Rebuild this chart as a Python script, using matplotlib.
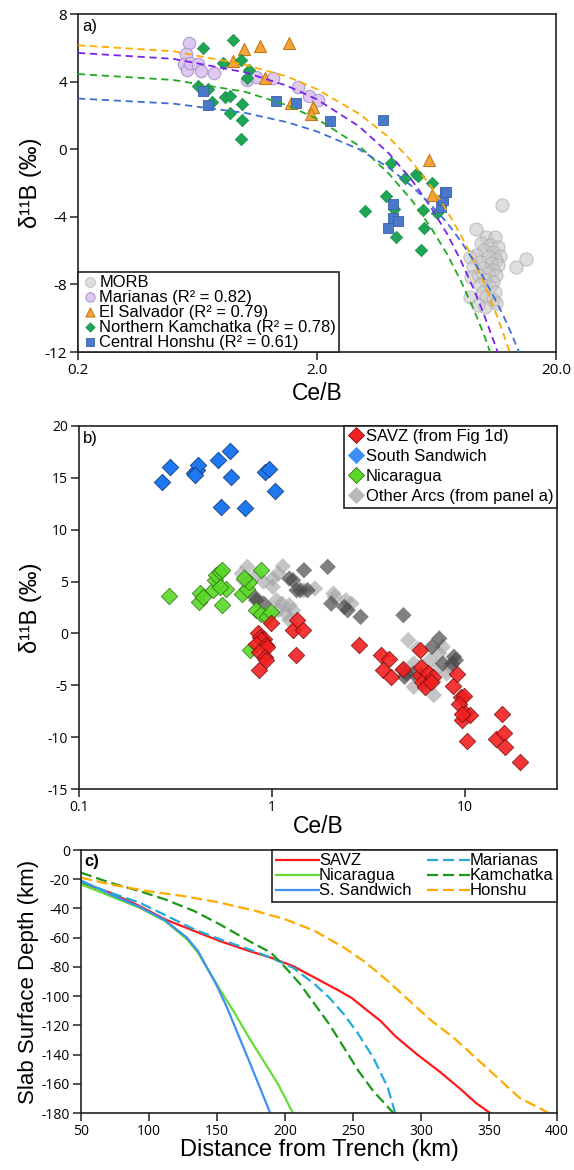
import numpy as np
import matplotlib
matplotlib.use("Agg")
import matplotlib.pyplot as plt
from matplotlib.ticker import NullLocator
from matplotlib.lines import Line2D

plt.rcParams['font.family'] = ['Liberation Sans', 'DejaVu Sans']

# ---------------- panel a data ----------------
morb_x = [10.22, 11.07, 9.74, 10.55, 11.43, 9.96, 10.89, 11.61, 9.28, 10.38, 11.25, 8.71, 9.59,
          10.72, 11.43, 8.99, 9.90, 10.89, 10.38, 9.43, 11.25, 8.85, 10.06, 10.89, 9.59, 10.55,
          11.07, 9.90, 10.22, 10.89, 8.77, 10.06, 9.43, 11.25, 15.0, 13.6, 11.9, 9.22]
morb_y = [-5.21, -5.21, -5.53, -5.67, -5.77, -5.96, -6.06, -6.32, -6.26, -6.36, -6.56, -6.40, -6.65,
          -6.75, -6.85, -6.95, -7.05, -7.15, -7.35, -7.44, -7.44, -7.58, -7.74, -7.84, -8.04, -8.13,
          -8.43, -8.43, -8.73, -8.92, -8.73, -9.32, -9.22, -9.12, -6.51, -6.99, -3.30, -4.74]

mar_x = [0.58, 0.566, 0.556, 0.57, 0.59, 0.634, 0.652, 0.743, 1.02, 1.11, 1.31, 1.66, 1.86, 2.01]
mar_y = [6.27, 5.62, 5.02, 4.67, 5.12, 5.02, 4.63, 4.53, 4.07, 4.29, 4.19, 3.69, 3.14, 2.90]

els_x = [0.89, 0.986, 1.15, 1.52, 1.21, 1.56, 1.93, 1.89, 5.86, 6.07]
els_y = [5.22, 5.92, 6.12, 6.31, 4.19, 2.74, 2.50, 2.11, -0.63, -2.71]

kam_x = [0.668, 0.893, 0.811, 0.958, 1.04, 1.02, 0.636, 0.698, 0.725, 0.826, 0.865, 0.968, 0.865,
         0.975, 0.958, 4.06, 4.69, 5.2, 5.27, 6.03, 3.9, 3.18, 4.18, 5.56, 6.33, 5.6, 4.27, 5.42]
kam_y = [5.98, 6.45, 5.12, 5.26, 4.67, 4.19, 3.73, 3.57, 2.78, 3.10, 3.14, 2.68, 2.15,
         1.75, 0.60, -0.83, -1.72, -1.46, -1.56, -2.02, -2.77, -3.65, -3.51, -3.57, -3.80, -4.66, -5.20, -5.95]

hon_x = [0.664, 0.70, 1.35, 1.63, 2.26, 3.78, 4.15, 4.17, 4.38, 3.96, 6.63, 6.74, 6.85, 6.93]
hon_y = [3.44, 2.64, 2.84, 2.74, 1.65, 1.71, -3.26, -4.09, -4.25, -4.68, -3.40, -3.00, -2.51, -2.52]

# fitted curves
fit_els_x = [0.2, 0.5, 1.0, 1.5, 2.0, 3.0, 4.0, 5.0, 6.0, 7.0, 8.0, 9.0, 10.0, 11.0, 12.0, 12.8]
fit_els_y = [6.15, 5.8, 5.0, 4.3, 3.55, 2.1, 0.7, -0.75, -2.2, -3.65, -5.1, -6.5, -7.95, -9.4, -10.85, -12.0]
fit_mar_x = [0.2, 0.5, 1.0, 1.5, 2.0, 3.0, 4.0, 5.0, 6.0, 7.0, 8.0, 9.0, 10.0, 11.4]
fit_mar_y = [5.7, 5.35, 4.55, 3.75, 2.95, 1.35, -0.25, -1.85, -3.45, -5.0, -6.6, -8.2, -9.8, -12.0]
fit_kam_x = [0.2, 0.5, 1.0, 1.5, 2.0, 3.0, 4.0, 5.0, 6.0, 7.0, 8.0, 9.0, 10.0, 10.6]
fit_kam_y = [4.45, 4.1, 3.4, 2.6, 1.8, 0.2, -1.45, -3.05, -4.65, -6.2, -7.8, -9.4, -11.0, -12.0]
fit_hon_x = [0.2, 0.5, 1.0, 1.5, 2.0, 3.0, 4.0, 5.0, 6.0, 7.0, 8.0, 9.0, 10.0, 11.0, 12.0, 13.0, 14.0]
fit_hon_y = [3.0, 2.7, 2.15, 1.6, 1.05, 0.0, -1.1, -2.2, -3.3, -4.35, -5.45, -6.55, -7.65, -8.75, -9.8, -10.9, -12.0]

# ---------------- panel b data ----------------
ssw_x = [0.268, 0.295, 0.396, 0.408, 0.413, 0.40, 0.523, 0.607, 0.546, 0.612, 0.729, 0.915, 0.96, 1.04]
ssw_y = [14.6, 16.05, 15.5, 15.76, 16.2, 15.3, 16.7, 17.6, 12.2, 15.1, 12.1, 15.57, 15.9, 13.74]

nic_x = [0.291, 0.422, 0.419, 0.437, 0.496, 0.509, 0.514, 0.537, 0.551, 0.581, 0.551, 0.698,
         0.745, 0.761, 0.879, 0.83, 0.875, 0.947, 0.989, 0.768, 0.537, 0.72]
nic_y = [3.59, 3.91, 3.04, 3.53, 4.17, 5.13, 5.61, 5.93, 6.10, 4.33, 2.72, 3.85,
         4.33, 4.97, 6.10, 2.24, 1.92, 1.60, 2.08, -1.55, 4.50, 5.30]

savz_x = [0.849, 0.868, 0.887, 0.906, 0.875, 0.83, 0.927, 0.947, 0.861, 0.915, 0.927, 0.861, 0.989,
          1.285, 1.355, 1.453, 1.331, 2.82, 3.66, 4.03, 3.74, 4.14, 4.76, 5.87, 5.97, 6.24, 5.93,
          6.46, 6.81, 5.87, 6.69, 8.69, 9.08, 9.58, 9.91, 9.37, 10.0, 9.66, 10.59, 10.2, 9.7,
          15.5, 14.5, 16.0, 16.2, 19.2]
savz_y = [0.0, -0.33, -0.65, -0.49, -0.65, -0.97, -1.13, -1.29, -1.77, -2.25, -2.58, -3.54, 1.02,
          0.31, 1.28, 0.31, -2.09, -1.13, -2.09, -2.51, -3.54, -4.18, -3.47, -4.02, -4.66, -5.14, -3.22,
          -3.86, -4.18, -1.55, -4.66, -5.08, -3.92, -6.11, -6.04, -6.81, -7.71, -8.36, -7.87, -10.35, -7.78,
          -7.78, -10.22, -9.64, -10.93, -12.37]

oth_light_x = [0.745, 0.698, 0.713, 0.83, 0.906, 1.01, 1.08, 1.137, 1.01, 1.056, 1.128, 1.231, 1.178,
               1.285, 1.08, 1.231, 1.465, 1.67, 2.08, 2.12, 2.42, 2.58, 5.08, 5.67, 5.43, 6.6, 7.05,
               6.9, 7.69, 8.04, 8.4, 5.43, 6.32, 7.36, 6.9]
oth_light_y = [6.42, 5.77, 5.13, 5.61, 4.97, 5.29, 5.77, 6.48, 4.49, 3.2, 2.88, 2.72, 1.92,
               2.24, 2.24, 1.28, 4.17, 4.33, 3.85, 3.53, 3.2, 2.88, -0.65, -1.45, -2.9, -2.58, -3.54,
               -4.66, -1.29, -3.86, -3.22, -5.14, -4.82, -1.93, -5.95]
oth_dark_x = [0.813, 0.83, 0.906, 1.231, 1.285, 1.465, 1.342, 1.402, 1.53, 1.945, 2.03, 2.37, 2.47,
              2.88, 4.8, 4.76, 4.87, 4.97, 5.43, 7.36, 8.77, 8.97, 8.59, 7.69, 6.75]
oth_dark_y = [3.53, 3.2, 2.88, 5.29, 5.13, 6.1, 4.17, 4.17, 4.17, 6.42, 2.88, 2.56, 2.24,
              1.6, 1.76, -3.54, -4.18, -3.86, -3.86, -0.49, -2.25, -2.58, -2.9, -2.9, -1.29]

# ---------------- panel c data ----------------
savz_d = [50, 71.5, 93.0, 111.8, 133.3, 152.1, 173.6, 189.7, 205.8, 221.9, 238.0, 248.8, 259.5,
          270.3, 281.0, 297.1, 313.2, 329.3, 340.1, 350.8]
savz_z = [-22.4, -29.2, -38.3, -47.5, -55.4, -62.3, -69.1, -73.7, -79.4, -87.4, -95.4, -101.1, -109.1,
          -117.0, -127.3, -139.9, -151.3, -163.8, -172.9, -180.0]
nic_d = [50, 71.5, 93.0, 111.8, 127.9, 136.0, 144.0, 152.1, 162.8, 173.6, 184.3, 195.0, 205.8]
nic_z = [-23.5, -31.5, -39.5, -48.6, -61.1, -70.3, -82.8, -95.4, -111.3, -128.5, -144.4, -160.4, -180.0]
ssw_d = [50, 71.5, 93.0, 111.8, 127.9, 136.0, 141.3, 149.4, 157.4, 165.5, 173.6, 181.6, 189.1]
ssw_z = [-20.8, -30.3, -39.0, -48.1, -60.0, -69.1, -78.2, -91.9, -107.9, -126.2, -144.4, -162.7, -180.0]
mar_d = [50, 71.5, 93.0, 111.8, 133.3, 152.1, 173.6, 189.7, 205.8, 221.9, 232.6, 243.4, 254.1,
         264.9, 275.6, 281.0]
mar_z = [-21.7, -29.2, -36.0, -44.5, -54.3, -61.1, -68.0, -73.7, -80.5, -91.9, -101.1, -112.5, -126.2,
         -142.1, -162.7, -180.0]
kam_d = [50, 71.5, 93.0, 111.8, 133.3, 152.1, 173.6, 189.7, 200.4, 211.2, 221.9, 232.6, 243.4,
         254.1, 264.9, 279.7]
kam_z = [-15.5, -22.4, -28.1, -33.8, -41.8, -50.9, -62.3, -70.3, -80.5, -91.9, -105.6, -119.3, -135.3,
         -151.3, -165.0, -180.0]
hon_d = [50, 71.5, 98.3, 125.2, 152.1, 178.9, 200.4, 221.9, 243.4, 259.5, 275.6, 291.7, 307.9,
         324.0, 340.1, 356.2, 372.3, 393.8]
hon_z = [-18.9, -23.5, -28.1, -31.5, -36.0, -41.8, -47.5, -55.4, -66.8, -77.1, -89.7, -103.4, -117.0,
         -128.5, -142.1, -155.8, -169.5, -180.0]

tickfont = ['Open Sans', 'DejaVu Sans']


def style_axes(ax, tsize):
    for s in ax.spines.values():
        s.set_color('#222222')
        s.set_linewidth(1.2)
    ax.tick_params(direction='out', length=6, width=1.1, color='#222222',
                   labelsize=tsize, top=False, right=False, pad=2)
    for lab in ax.get_xticklabels() + ax.get_yticklabels():
        lab.set_fontfamily(tickfont)


fig = plt.figure(figsize=(5.74, 11.7), dpi=100)

# ================= panel a =================
ax1 = fig.add_axes([0.1359, 0.6991, 0.8328, 0.2889])
ax1.set_xscale('log')
ax1.scatter(morb_x, morb_y, s=90, marker='o', c='#C8C8C8', edgecolors='#A8A8A8',
            linewidths=0.8, alpha=0.6, zorder=2, label='MORB')
ax1.scatter(mar_x, mar_y, s=80, marker='o', c='#DCC4F2', edgecolors='#A894C4',
            linewidths=0.8, alpha=0.9, zorder=3, label='Marianas (R² = 0.82)')
ax1.scatter(els_x, els_y, s=75, marker='^', c='#F5A536', edgecolors='#C57A1E',
            linewidths=0.8, zorder=3, label='El Salvador (R² = 0.79)')
ax1.scatter(kam_x, kam_y, s=40, marker='D', c='#1EA656', edgecolors='#178A45',
            linewidths=0.5, zorder=3, label='Northern Kamchatka (R² = 0.78)')
ax1.scatter(hon_x, hon_y, s=55, marker='s', c='#4B79C9', edgecolors='#3A62A8',
            linewidths=0.6, zorder=3, label='Central Honshu (R² = 0.61)')

dash = (0, (4, 2.6))
ax1.plot(fit_els_x, fit_els_y, color='#FFAA00', lw=1.3, ls=dash, zorder=4)
ax1.plot(fit_mar_x, fit_mar_y, color='#7A22F0', lw=1.3, ls=dash, zorder=4)
ax1.plot(fit_kam_x, fit_kam_y, color='#22AA22', lw=1.3, ls=dash, zorder=4)
ax1.plot(fit_hon_x, fit_hon_y, color='#3F70D0', lw=1.3, ls=dash, zorder=4)

ax1.set_xlim(0.2, 20)
ax1.set_ylim(-12, 8)
ax1.set_xticks([0.2, 2.0, 20.0])
ax1.set_xticklabels(['0.2', '2.0', '20.0'])
ax1.xaxis.set_minor_locator(NullLocator())
ax1.set_yticks([8, 4, 0, -4, -8, -12])
ax1.set_yticklabels(['8', '4', '0', '-4', '-8', '-12'])
style_axes(ax1, 11)
ax1.set_xlabel('Ce/B', fontsize=16.5, labelpad=3)
ax1.set_ylabel('δ¹¹B (‰)', fontsize=17, labelpad=2)
ax1.text(0.008, 0.985, 'a)', transform=ax1.transAxes, ha='left', va='top', fontsize=12)
leg1 = ax1.legend(loc='lower left', bbox_to_anchor=(0, 0), fontsize=11.9, frameon=True,
                  fancybox=False, edgecolor='#222222', framealpha=1, borderpad=0.15,
                  labelspacing=0.0, handletextpad=0.05, handlelength=1.1, borderaxespad=0,
                  markerscale=0.75)
leg1.get_frame().set_linewidth(1.2)

# ================= panel b =================
ax2 = fig.add_axes([0.1376, 0.3256, 0.8328, 0.3103])
ax2.set_xscale('log')
ax2.scatter(oth_light_x, oth_light_y, s=70, marker='D', c='#A6A6A6', edgecolors='none',
            alpha=0.65, zorder=2)
ax2.scatter(oth_dark_x, oth_dark_y, s=70, marker='D', c='#4A4A4A', edgecolors='none',
            alpha=0.7, zorder=2)
ax2.scatter(ssw_x, ssw_y, s=70, marker='D', c='#1F78F0', edgecolors='#143E80',
            linewidths=0.6, zorder=3)
ax2.scatter(nic_x, nic_y, s=70, marker='D', c='#5AD828', edgecolors='#2E7414',
            linewidths=0.6, alpha=0.9, zorder=3)
ax2.scatter(savz_x, savz_y, s=70, marker='D', c='#F22020', edgecolors='#7A1010',
            linewidths=0.6, alpha=0.9, zorder=4)
ax2.set_xlim(0.1, 30)
ax2.set_ylim(-15, 20)
ax2.set_xticks([0.1, 1, 10])
ax2.set_xticklabels(['0.1', '1', '10'])
ax2.xaxis.set_minor_locator(NullLocator())
ax2.set_yticks([20, 15, 10, 5, 0, -5, -10, -15])
ax2.set_yticklabels(['20', '15', '10', '5', '0', '-5', '-10', '-15'])
style_axes(ax2, 10)
ax2.set_xlabel('Ce/B', fontsize=16.5, labelpad=0)
ax2.set_ylabel('δ¹¹B (‰)', fontsize=17, labelpad=4)
ax2.text(0.008, 0.985, 'b)', transform=ax2.transAxes, ha='left', va='top', fontsize=12)
h2 = [Line2D([], [], ls='none', marker='D', ms=8, mfc='#F22020', mec='#7A1010', mew=0.6),
      Line2D([], [], ls='none', marker='D', ms=8, mfc='#3B8EF5', mec='#3B8EF5', mew=0.6),
      Line2D([], [], ls='none', marker='D', ms=8, mfc='#5AD828', mec='#2E7414', mew=0.6),
      Line2D([], [], ls='none', marker='D', ms=8, mfc='#B8B8B8', mec='#B8B8B8', mew=0.6)]
leg2 = ax2.legend(h2, ['SAVZ (from Fig 1d)', 'South Sandwich', 'Nicaragua', 'Other Arcs (from panel a)'],
                  loc='upper right', bbox_to_anchor=(1, 1), fontsize=12, frameon=True,
                  fancybox=False, edgecolor='#222222', framealpha=1, borderpad=0.2,
                  labelspacing=0.3, handletextpad=0.1, handlelength=1.0, borderaxespad=0)
leg2.get_frame().set_linewidth(1.2)

# ================= panel c =================
ax3 = fig.add_axes([0.1411, 0.0487, 0.8293, 0.2248])
ldash = (0, (5, 2.2))
l1, = ax3.plot(savz_d, savz_z, color='#FF1A1A', lw=1.6)
l2, = ax3.plot(nic_d, nic_z, color='#66DD33', lw=1.6)
l3, = ax3.plot(ssw_d, ssw_z, color='#4090F0', lw=1.6)
l4, = ax3.plot(mar_d, mar_z, color='#22AADD', lw=1.6, ls=ldash)
l5, = ax3.plot(kam_d, kam_z, color='#1A991A', lw=1.6, ls=ldash)
l6, = ax3.plot(hon_d, hon_z, color='#FFAA00', lw=1.6, ls=ldash)
ax3.set_xlim(50, 400)
ax3.set_ylim(-180, 0)
ax3.set_xticks([50, 100, 150, 200, 250, 300, 350, 400])
ax3.set_yticks(list(range(0, -181, -20)))
ax3.set_yticklabels([str(v) for v in range(0, -181, -20)])
style_axes(ax3, 10)
ax3.set_xlabel('Distance from Trench (km)', fontsize=17, labelpad=0)
ax3.set_ylabel('Slab Surface Depth (km)', fontsize=16, labelpad=2)
ax3.text(0.008, 0.985, 'c)', transform=ax3.transAxes, ha='left', va='top', fontsize=12,
         fontweight='bold')
leg3 = ax3.legend([l1, l2, l3, l4, l5, l6],
                  ['SAVZ', 'Nicaragua', 'S. Sandwich', 'Marianas', 'Kamchatka', 'Honshu'],
                  ncol=2, loc='upper right', bbox_to_anchor=(1, 1), fontsize=12, frameon=True,
                  fancybox=False, edgecolor='#222222', framealpha=1, borderpad=0.2,
                  labelspacing=0.0, handletextpad=0.0, handlelength=2.6, columnspacing=0.9,
                  borderaxespad=0)
leg3.get_frame().set_linewidth(1.2)

fig.savefig('out.png', dpi=100)
